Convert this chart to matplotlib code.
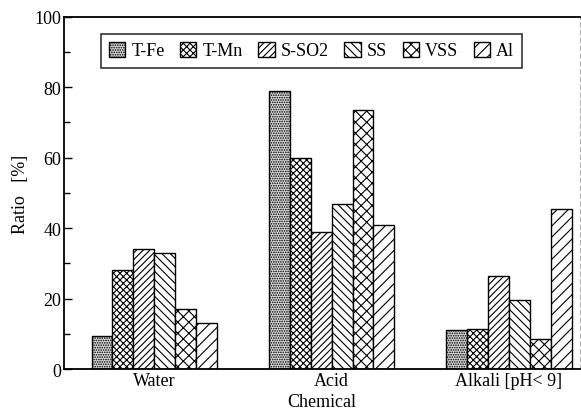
import numpy as np
import matplotlib
matplotlib.use('Agg')
from matplotlib import pyplot as plt
from matplotlib.ticker import MultipleLocator

plt.rcParams['font.family'] = ['Liberation Serif', 'DejaVu Serif']
plt.rcParams['hatch.linewidth'] = 0.8

groups = ['Water', 'Acid', 'Alkali [pH< 9]']
series = ['T-Fe', 'T-Mn', 'S-SO2', 'SS', 'VSS', 'Al']
values = {
    'T-Fe':  [9.5, 79, 11],
    'T-Mn':  [28, 60, 11.5],
    'S-SO2': [34, 39, 26.5],
    'SS':    [33, 47, 19.5],
    'VSS':   [17, 73.5, 8.5],
    'Al':    [13, 41, 45.5],
}
hatches = ['.......', 'xxxxx', '/////', '\\\\\\\\', 'xxx', '///']
faces = ['#d8d8d8', 'white', 'white', 'white', 'white', 'white']

fig = plt.figure(figsize=(5.81, 4.14), dpi=100)
ax = fig.add_axes([0.110, 0.106, 0.888, 0.851])

x = np.arange(len(groups))
w = 0.118
for i, name in enumerate(series):
    offs = (i - 2.5) * w
    ax.bar(x + offs, values[name], w, facecolor=faces[i], edgecolor='black',
           hatch=hatches[i], linewidth=1.0, label=name)

ax.set_xlim(-0.51, 2.40)
ax.set_ylim(0, 100)
ax.set_xticks(x)
ax.set_xticklabels(groups, fontsize=13)
ax.tick_params(axis='x', length=0, pad=2)
ax.yaxis.set_major_locator(MultipleLocator(20))
ax.yaxis.set_minor_locator(MultipleLocator(10))
ax.tick_params(axis='y', which='both', direction='in', labelsize=13, pad=2)
ax.tick_params(axis='y', which='major', length=6, width=1)
ax.tick_params(axis='y', which='minor', length=4, width=1)

for s in ['left', 'bottom', 'top']:
    ax.spines[s].set_linewidth(1.3)
ax.spines['right'].set_color('#b0b0b0')
ax.spines['right'].set_linestyle((0, (4, 3)))
ax.spines['right'].set_linewidth(0.8)

ax.set_xlabel('Chemical', fontsize=13, labelpad=3)
ax.set_ylabel('Ratio   [%]', fontsize=13, labelpad=4)

leg = ax.legend(loc='upper center', bbox_to_anchor=(0.48, 0.978), ncol=6,
                fontsize=13, frameon=True, fancybox=False, edgecolor='black',
                handlelength=0.9, handleheight=0.9, handletextpad=0.35,
                columnspacing=0.85, borderpad=0.45)
leg.get_frame().set_linewidth(1.2)

fig.savefig('out.png', dpi=100)
